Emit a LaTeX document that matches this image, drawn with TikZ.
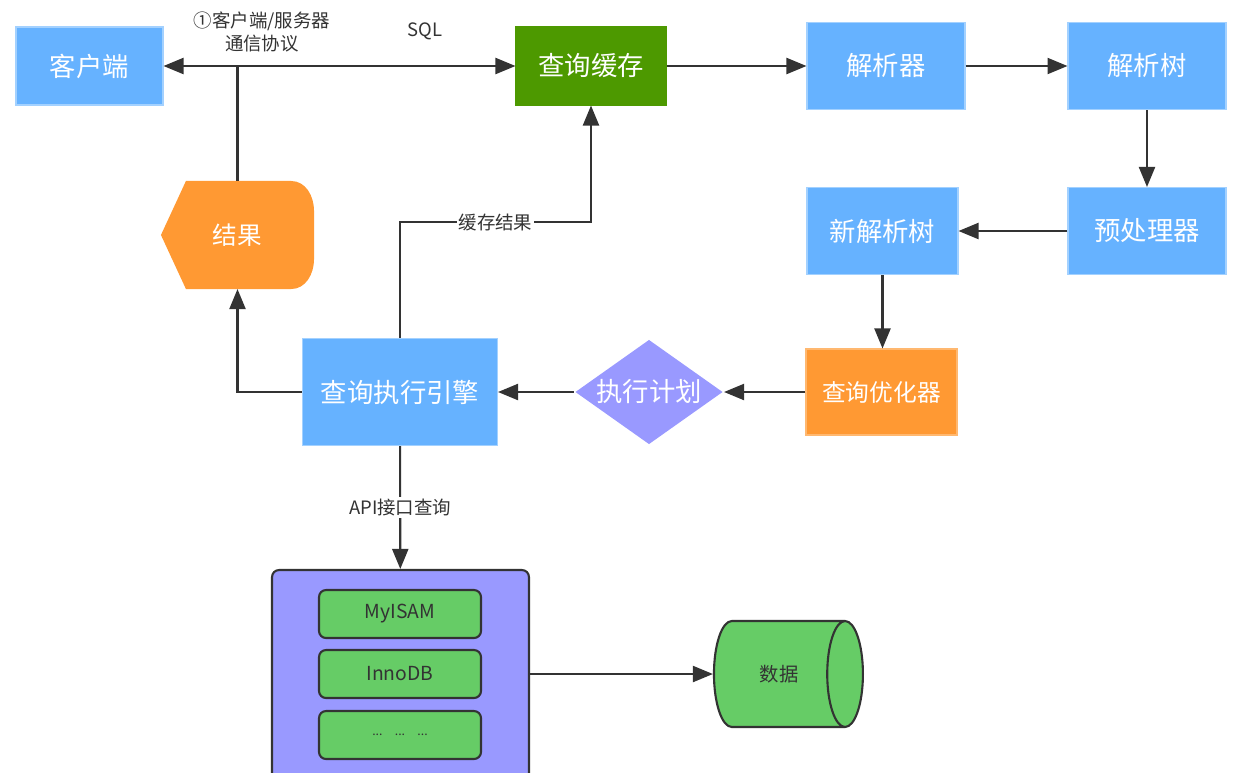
\documentclass[tikz,border=0pt]{standalone}
\usepackage{fontspec}
\setmainfont{Noto Sans CJK SC}
\usetikzlibrary{arrows.meta, positioning, shapes.geometric, calc, backgrounds}
\definecolor{cblue}{HTML}{66B2FF}
\definecolor{cgreen}{HTML}{4D9900}
\definecolor{corange}{HTML}{FF9933}
\definecolor{cviolet}{HTML}{9999FF}
\definecolor{clight}{HTML}{66CC66}
\definecolor{cdark}{HTML}{333333}
\tikzset{
  every picture/.style={line width=1.2pt},
  box/.style={draw=#1!60!white, fill=#1, text=white, line width=0.6pt, align=center, inner sep=2pt, font=\fontsize{15}{18}\selectfont},
  box/.default=cblue,
  arrow/.style={-{Triangle[length=0.4cm, width=0.32cm]}, draw=cdark},
  twoway/.style={{Triangle[length=0.4cm, width=0.32cm]}-{Triangle[length=0.4cm, width=0.32cm]}, draw=cdark},
  link/.style={draw=cdark},
  lbl/.style={font=\fontsize{10.5}{13}\selectfont, text=cdark, align=center, inner sep=1pt},
  store/.style={draw=cdark, fill=clight, rounded corners=4pt, minimum width=3.24cm, minimum height=0.96cm, font=\fontsize{11}{13}\selectfont, text=cdark},
}

\begin{document}
\begin{tikzpicture}[x=0.02cm, y=-0.02cm]
  \useasboundingbox (0,0) rectangle (1252,772);
  % top row
  \node[box, minimum width=2.94cm, minimum height=1.56cm] (client) at (89.5,66) {客户端};
  \node[box=cgreen, draw=cgreen, minimum width=3.0cm, minimum height=1.56cm] (cache) at (591,66) {查询缓存};
  \node[box, minimum width=3.16cm, minimum height=1.74cm] (parser) at (886,66) {解析器};
  \node[box, minimum width=3.16cm, minimum height=1.74cm] (ptree) at (1147,66) {解析树};
  \node[lbl] (proto) at (262,32) {①客户端/服务器\\通信协议};
  \node[lbl] (sql) at (425,31) {SQL};
  % right column and middle row
  \node[box, minimum width=3.16cm, minimum height=1.74cm] (prep) at (1147,231) {预处理器};
  \node[box, minimum width=3.02cm, minimum height=1.74cm] (ntree) at (882.5,231) {新解析树};
  \node[box=corange, draw=corange!70!white, minimum width=3.02cm, minimum height=1.72cm, font=\fontsize{13.5}{16}\selectfont] (opt) at (881.5,392) {查询优化器};
  \node[diamond, aspect=1.4, fill=cviolet, text=white, inner sep=0pt, minimum width=2.96cm, minimum height=2.1cm, font=\fontsize{15}{18}\selectfont] (plan) at (649,392) {执行计划};
  \node[box, minimum width=3.9cm, minimum height=2.14cm] (exec) at (400,392) {查询执行引擎};
  \node[text=white, minimum width=3.02cm, minimum height=2.12cm, font=\fontsize{14}{17}\selectfont] (res) at (237.5,235) {结果};
  \begin{scope}[on background layer]
    \fill[corange] (res.west) -- ([xshift=0.5cm]res.north west) -- ([xshift=-0.46cm]res.north east)
      to[out=0, in=90] ([yshift=-0.6cm]res.north east) -- ([yshift=0.6cm]res.south east)
      to[out=-90, in=0] ([xshift=-0.46cm]res.south east) -- ([xshift=0.5cm]res.south west) -- cycle;
  \end{scope}
  % storage engines
  \node[draw=cdark, fill=cviolet, rounded corners=4pt, minimum width=5.14cm, minimum height=4.6cm] (engines) at (400.5,685) {};
  \node[store] (myisam) at (400,614) {MyISAM};
  \node[store] (innodb) at (400,674) {InnoDB};
  \node[store] (more) at (400,735) {\fontsize{7}{9}\selectfont ...\quad ...\quad ...};
  \node[cylinder, draw=cdark, fill=clight, aspect=2, minimum width=2.12cm, minimum height=2.98cm, inner sep=0pt, font=\fontsize{11}{13}\selectfont, text=cdark] (data) at (779,674) {数据};
  % connectors
  \draw[twoway] (client) -- (cache);
  \draw[arrow] (cache) -- (parser);
  \draw[arrow] (parser) -- (ptree);
  \draw[arrow] (ptree) -- (prep);
  \draw[arrow] (prep) -- (ntree);
  \draw[arrow] (ntree.south) -- (ntree.south |- opt.north);
  \draw[arrow] (opt) -- (plan);
  \draw[arrow] (plan) -- (exec);
  \draw[arrow] (exec.west) -| (res.south);
  \draw[link] (res.north) -- (res.north |- client);
  \coordinate (turn) at (591,222);
  \draw[arrow] (exec.north) |- node[pos=0.75, lbl, fill=white] {缓存结果} (turn) -- (cache.south);
  \draw[arrow] (exec) -- node[lbl, fill=white] {API接口查询} (engines);
  \draw[arrow] (engines.east |- innodb) -- (data);
\end{tikzpicture}
\end{document}
